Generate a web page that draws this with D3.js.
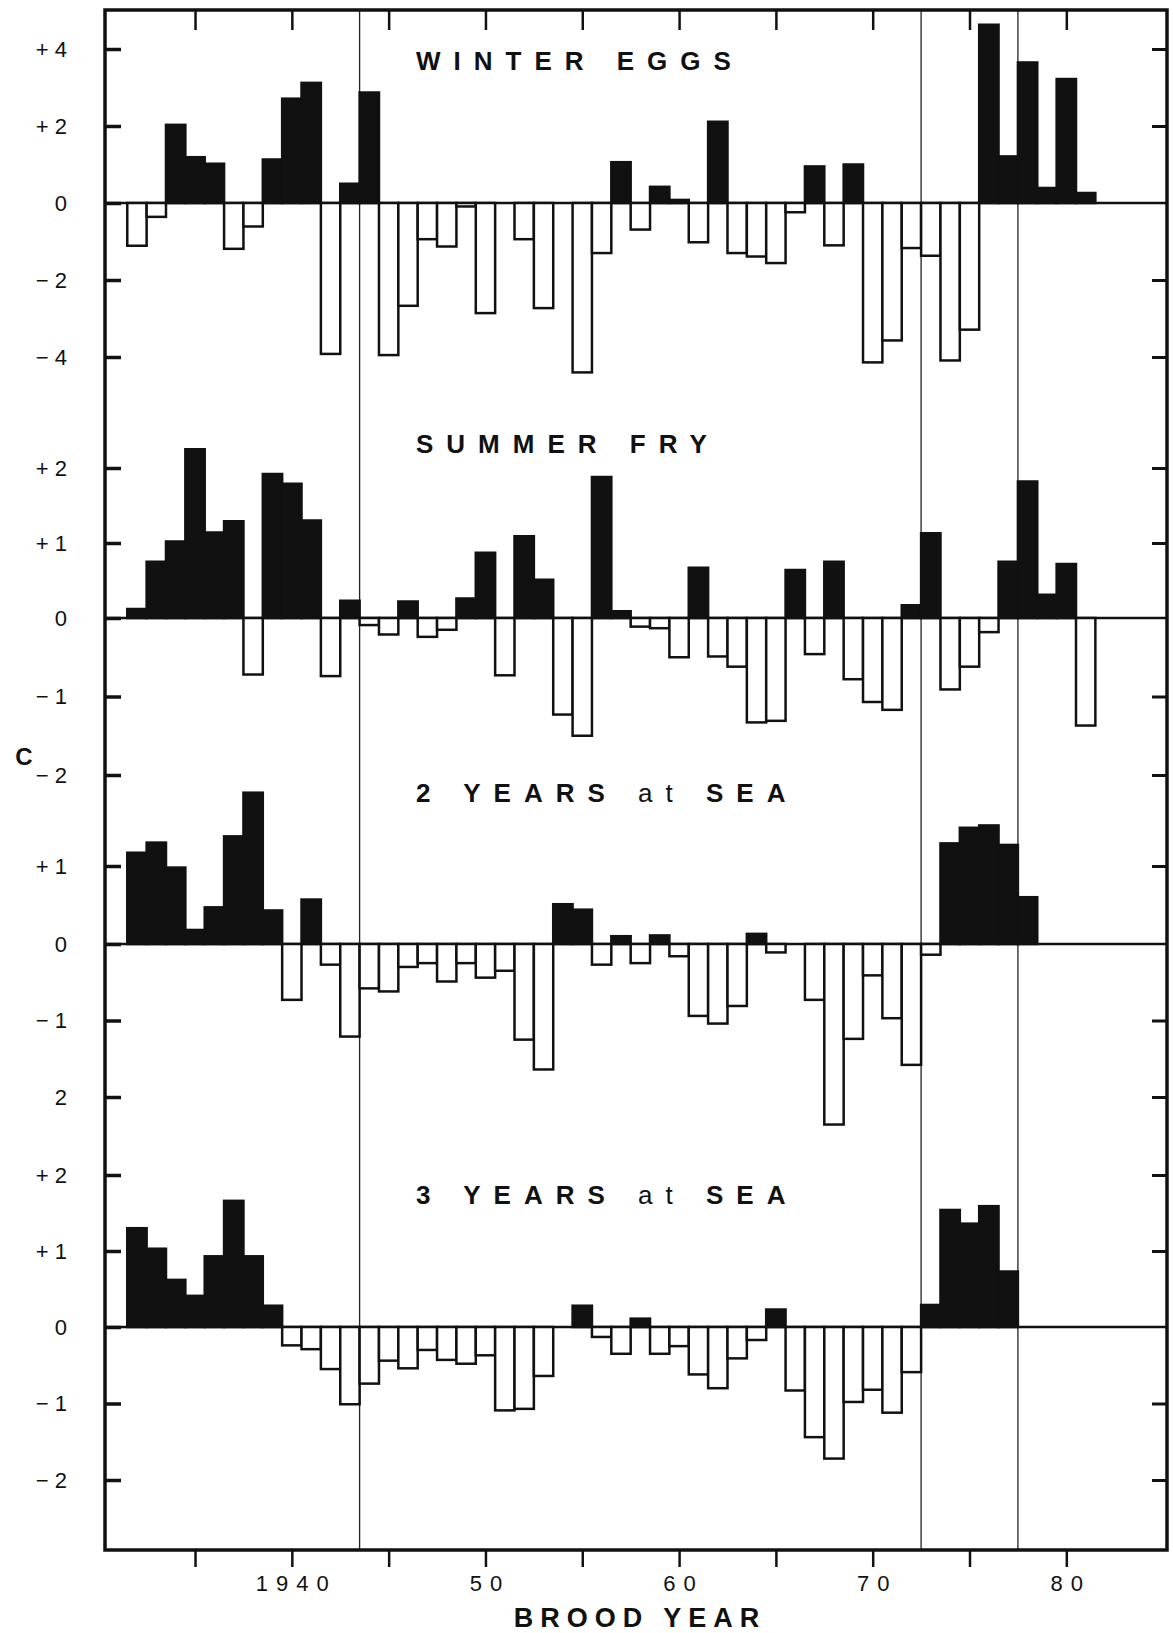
<!DOCTYPE html>
<html>
<head>
<meta charset="utf-8">
<script src="https://cdn.jsdelivr.net/npm/d3@7"></script>
<style>
  body { margin: 0; background: #fff; }
  svg { display: block; }
  text { font-family: 'Liberation Sans', Arial, sans-serif; fill: #111; }
  .title { font-size: 26px; font-weight: bold; letter-spacing: 13px; }
  .bar { stroke: #111; stroke-width: 2.5; }
  .zero { stroke: #111; stroke-width: 2.5; }
  .divider { stroke: #222; stroke-width: 1.3; }
</style>
</head>
<body>
<svg width="1173" height="1633"></svg>
<script>
const years = d3.range(1932, 1982)

const winterEggs = [
  -1.11, -0.36, 2.03, 1.19, 1.02, -1.19, -0.61, 1.13, 2.71, 3.12,
  -3.92, 0.5, 2.87, -3.95, -2.67, -0.94, -1.13, -0.09, -2.86, 0,
  -0.94, -2.73, 0, -4.4, -1.3, 1.06, -0.69, 0.42, 0.08, -1.02,
  2.11, -1.3, -1.39, -1.56, -0.24, 0.95, -1.1, 1.0, -4.14, -3.57,
  -1.17, -1.37, -4.09, -3.29, 4.63, 1.21, 3.65, 0.39, 3.22, 0.26
]

const summerFry = [
  0.12, 0.75, 1.02, 2.25, 1.14, 1.29, -0.72, 1.92, 1.79, 1.3,
  -0.74, 0.23, -0.09, -0.21, 0.22, -0.24, -0.15, 0.26, 0.87, -0.73,
  1.09, 0.51, -1.23, -1.5, 1.88, 0.09, -0.11, -0.13, -0.5, 0.67,
  -0.49, -0.62, -1.33, -1.31, 0.64, -0.46, 0.75, -0.78, -1.07, -1.17,
  0.17, 1.13, -0.91, -0.62, -0.18, 0.75, 1.82, 0.31, 0.72, -1.37
]

// 1932 - 1978
const twoYearsAtSea = [
  1.17, 1.3, 0.98, 0.18, 0.47, 1.38, 1.94, 0.43, -0.73, 0.57,
  -0.27, -1.21, -0.58, -0.62, -0.3, -0.25, -0.49, -0.25, -0.44, -0.35,
  -1.25, -1.64, 0.51, 0.44, -0.27, 0.1, -0.25, 0.11, -0.16, -0.94,
  -1.04, -0.81, 0.13, -0.11, 0, -0.73, -2.36, -1.24, -0.41, -0.97,
  -1.58, -0.14, 1.29, 1.49, 1.52, 1.27, 0.6
]

// 1932 - 1977
const threeYearsAtSea = [
  1.3, 1.03, 0.62, 0.41, 0.93, 1.66, 0.93, 0.28, -0.24, -0.29,
  -0.55, -1.01, -0.74, -0.44, -0.54, -0.3, -0.43, -0.48, -0.37, -1.09,
  -1.07, -0.64, 0, 0.28, -0.13, -0.35, 0.11, -0.35, -0.25, -0.62,
  -0.8, -0.41, -0.17, 0.23, -0.83, -1.44, -1.72, -0.98, -0.82, -1.12,
  -0.59, 0.29, 1.54, 1.36, 1.59, 0.73
]

const dividerYears = [1943.5, 1972.5, 1977.5]
const xTickYears = [1935, 1940, 1945, 1950, 1955, 1960, 1965, 1970, 1975, 1980]
const xTickLabels = { 1940: '1940', 1950: '50', 1960: '60', 1970: '70', 1980: '80' }

const eggTicks = [4, 2, 0, -2, -4]
const eggTickLabels = ['+ 4', '+ 2', '0', '− 2', '− 4']
const fryTicks = [2, 1, 0, -1, -2]
const fryTickLabels = ['+ 2', '+ 1', '0', '− 1', '− 2']
const twoTicks = [1, 0, -1, -2]
const twoTickLabels = ['+ 1', '0', '− 1', '2']
const threeTicks = [2, 1, 0, -1, -2]
const threeTickLabels = ['+ 2', '+ 1', '0', '− 1', '− 2']

const svg = d3.select('svg')

const frame = { left: 105, right: 1167, top: 10, bottom: 1550 }

const xScale = d3.scaleLinear()
  .domain([1930.35, 1985.2])
  .range([frame.left, frame.right])

const panels = [
  { title: 'WINTER EGGS', values: winterEggs, domain: [-4, 0, 4], range: [357, 203, 49], ticks: eggTicks, labels: eggTickLabels, titleY: 70 },
  { title: 'SUMMER FRY', values: summerFry, domain: [-2, 0, 2], range: [775, 618, 468], ticks: fryTicks, labels: fryTickLabels, titleY: 453 },
  { title: '2 YEARS at SEA', values: twoYearsAtSea, domain: [-2, 0, 1], range: [1097, 944, 866], ticks: twoTicks, labels: twoTickLabels, titleY: 802 },
  { title: '3 YEARS at SEA', values: threeYearsAtSea, domain: [-2, 0, 2], range: [1480, 1327, 1175], ticks: threeTicks, labels: threeTickLabels, titleY: 1204 }
]

// divider lines
svg.selectAll('.divider')
  .data(dividerYears)
  .join('line')
  .attr('class', 'divider')
  .attr('x1', d => xScale(d))
  .attr('x2', d => xScale(d))
  .attr('y1', frame.top)
  .attr('y2', frame.bottom)

const styleAxis = (g, width) => {
  g.select('.domain').remove()
  g.selectAll('.tick line').attr('stroke', '#111').attr('stroke-width', width)
  g.selectAll('.tick text')
    .attr('fill', '#111')
    .style('font-family', "'Liberation Sans', Arial, sans-serif")
}

panels.forEach(p => {
  const yScale = d3.scaleLinear().domain(p.domain).range(p.range)
  const g = svg.append('g')

  g.append('line')
    .attr('class', 'zero')
    .attr('x1', frame.left)
    .attr('x2', frame.right)
    .attr('y1', yScale(0))
    .attr('y2', yScale(0))

  const data = p.values.map((v, i) => ({ year: years[i], value: v }))

  g.selectAll('.bar')
    .data(data.filter(d => d.value !== 0))
    .join('rect')
    .attr('class', 'bar')
    .attr('x', d => xScale(d.year - 0.5))
    .attr('width', d => xScale(d.year + 0.5) - xScale(d.year - 0.5))
    .attr('y', d => yScale(Math.max(0, d.value)))
    .attr('height', d => Math.abs(yScale(d.value) - yScale(0)))
    .attr('fill', d => d.value > 0 ? '#111' : '#fff')

  const leftAxis = d3.axisLeft(yScale)
    .tickValues(p.ticks)
    .tickFormat((d, i) => p.labels[i])
    .tickSize(-16)
    .tickPadding(38)

  g.append('g')
    .attr('transform', `translate(${frame.left}, 0)`)
    .call(leftAxis)
    .call(a => styleAxis(a, 3.5))
    .selectAll('.tick text')
    .style('font-size', '22px')

  const rightAxis = d3.axisRight(yScale)
    .tickValues(p.ticks.filter(t => t !== 0))
    .tickFormat('')
    .tickSize(-15)

  g.append('g')
    .attr('transform', `translate(${frame.right}, 0)`)
    .call(rightAxis)
    .call(a => styleAxis(a, 3))

  const words = p.title.split(' ')
  g.append('text')
    .attr('class', 'title')
    .attr('x', 416)
    .attr('y', p.titleY)
    .selectAll('tspan')
    .data(words)
    .join('tspan')
    .attr('font-weight', d => d === d.toLowerCase() && isNaN(+d) ? 'normal' : 'bold')
    .text((d, i) => (i ? ' ' : '') + d)
})

// frame
svg.append('rect')
  .attr('x', frame.left)
  .attr('y', frame.top)
  .attr('width', frame.right - frame.left)
  .attr('height', frame.bottom - frame.top)
  .attr('fill', 'none')
  .attr('stroke', '#111')
  .attr('stroke-width', 3.5)

const topAxis = d3.axisTop(xScale)
  .tickValues(xTickYears)
  .tickFormat('')
  .tickSize(-20)

svg.append('g')
  .attr('transform', `translate(0, ${frame.top})`)
  .call(topAxis)
  .call(a => styleAxis(a, 2.5))

const bottomAxis = d3.axisBottom(xScale)
  .tickValues(xTickYears)
  .tickFormat(d => xTickLabels[d] || '')
  .tickSize(17)
  .tickPadding(8)

svg.append('g')
  .attr('transform', `translate(0, ${frame.bottom})`)
  .call(bottomAxis)
  .call(a => styleAxis(a, 2.5))
  .selectAll('.tick text')
  .style('font-size', '22px')
  .style('letter-spacing', '8px')
  .attr('dx', 4)

svg.append('text')
  .attr('x', 24)
  .attr('y', 765)
  .attr('text-anchor', 'middle')
  .style('font-size', '24px')
  .style('font-weight', 'bold')
  .text('C')

svg.append('text')
  .attr('x', 640)
  .attr('y', 1627)
  .attr('text-anchor', 'middle')
  .style('font-size', '27px')
  .style('font-weight', 'bold')
  .style('letter-spacing', '7px')
  .text('BROOD YEAR')
</script>
</body>
</html>
